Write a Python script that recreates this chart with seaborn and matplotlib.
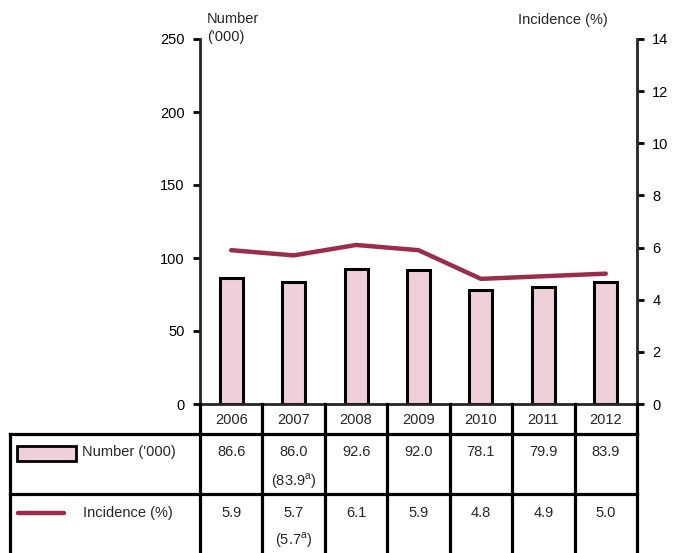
import numpy as np
import pandas as pd
import matplotlib
matplotlib.use("Agg")
import matplotlib.pyplot as plt
import seaborn as sns
from matplotlib.lines import Line2D
from matplotlib.patches import Rectangle

# chart data
years = ['2006', '2007', '2008', '2009', '2010', '2011', '2012']
number = [86.6, 83.9, 92.6, 92.0, 78.1, 79.9, 83.9]
incidence = [5.9, 5.7, 6.1, 5.9, 4.8, 4.9, 5.0]
number_labels = ['86.6', '86.0', '92.6', '92.0', '78.1', '79.9', '83.9']
incidence_labels = ['5.9', '5.7', '6.1', '5.9', '4.8', '4.9', '5.0']
number_notes = ['', '(83.9$^{\\mathrm{a}}$)', '', '', '', '', '']
incidence_notes = ['', '(5.7$^{\\mathrm{a}}$)', '', '', '', '', '']

df = pd.DataFrame({'Year': years, 'Number': number, 'Incidence': incidence})

sns.set_style('white')
plt.rcParams['font.family'] = ['Liberation Sans', 'DejaVu Sans']
plt.rcParams['mathtext.fontset'] = 'custom'
plt.rcParams['mathtext.rm'] = 'Liberation Sans'

bar_color = '#F0D0D8'
line_color = '#9B2C4A'
fs = 10.5

W, H = 674, 553
fig = plt.figure(figsize=(W / 100, H / 100), dpi=100)
ax = fig.add_axes([200 / W, 1 - 404 / H, 437 / W, 365 / H])

sns.barplot(data=df, x='Year', y='Number', color=bar_color, edgecolor='black',
            linewidth=2.2, width=0.37, saturation=1, ax=ax)
ax.set_ylim(0, 250)
ax.set_xlim(-0.5, 6.5)
ax.set_yticks([0, 50, 100, 150, 200, 250])
ax.set_xlabel('')
ax.set_ylabel('')
ax.set_xticks([])

ax2 = ax.twinx()
sns.lineplot(x=np.arange(len(years)), y=df['Incidence'], color=line_color,
             linewidth=3.2, ax=ax2)
ax2.set_ylim(0, 14)
ax2.set_yticks(range(0, 15, 2))
ax2.set_ylabel('')
ax.set_xlim(-0.5, 6.5)

for a in (ax, ax2):
    a.spines['top'].set_visible(False)
    a.tick_params(axis='y', length=5, width=2, labelsize=fs, direction='out',
                  colors='black', pad=6)
ax.spines['left'].set_linewidth(2)
ax.spines['bottom'].set_linewidth(2)
ax.spines['right'].set_visible(False)
ax2.spines['left'].set_visible(False)
ax2.spines['bottom'].set_visible(False)
ax2.spines['right'].set_linewidth(2)
ax.tick_params(axis='y', left=True, right=False)
ax2.tick_params(axis='y', right=True, left=False)

fig.text(207 / W, 1 - 28 / H, "Number\n('000)", fontsize=fs, ha='left', va='center',
         linespacing=1.3)
fig.text(608 / W, 1 - 20 / H, 'Incidence (%)', fontsize=fs, ha='right', va='center')

# table below the plot
def fx(px):
    return px / W

def fy(py):
    return 1 - py / H

col_edges = [200 + 437 * i / 7 for i in range(8)]
lw = 2.3
lines = []
for x in col_edges:
    lines.append(([x, x], [404, 434]))
lines.append(([10, 637], [434, 434]))
lines.append(([10, 637], [494, 494]))
for x in [10] + col_edges:
    lines.append(([x, x], [434, 553]))
for xs, ys in lines:
    fig.add_artist(Line2D([fx(v) for v in xs], [fy(v) for v in ys], color='black',
                          linewidth=lw, solid_capstyle='projecting'))

for i, yr in enumerate(years):
    cx = (col_edges[i] + col_edges[i + 1]) / 2
    fig.text(fx(cx), fy(420), yr, fontsize=fs, ha='center', va='center')
    fig.text(fx(cx), fy(452), number_labels[i], fontsize=fs, ha='center', va='center')
    if number_notes[i]:
        fig.text(fx(cx), fy(481), number_notes[i], fontsize=fs, ha='center', va='center')
    fig.text(fx(cx), fy(513), incidence_labels[i], fontsize=fs, ha='center', va='center')
    if incidence_notes[i]:
        fig.text(fx(cx), fy(540), incidence_notes[i], fontsize=fs, ha='center', va='center')

fig.add_artist(Rectangle((fx(17), fy(461)), (76 - 17) / W, 15 / H, facecolor=bar_color,
                         edgecolor='black', linewidth=2))
fig.text(fx(82), fy(452), "Number ('000)", fontsize=fs, ha='left', va='center')
fig.add_artist(Line2D([fx(18), fx(64)], [fy(513), fy(513)], color=line_color, linewidth=3.2))
fig.text(fx(83), fy(513), 'Incidence (%)', fontsize=fs, ha='left', va='center')

fig.savefig('out.png', dpi=100)
